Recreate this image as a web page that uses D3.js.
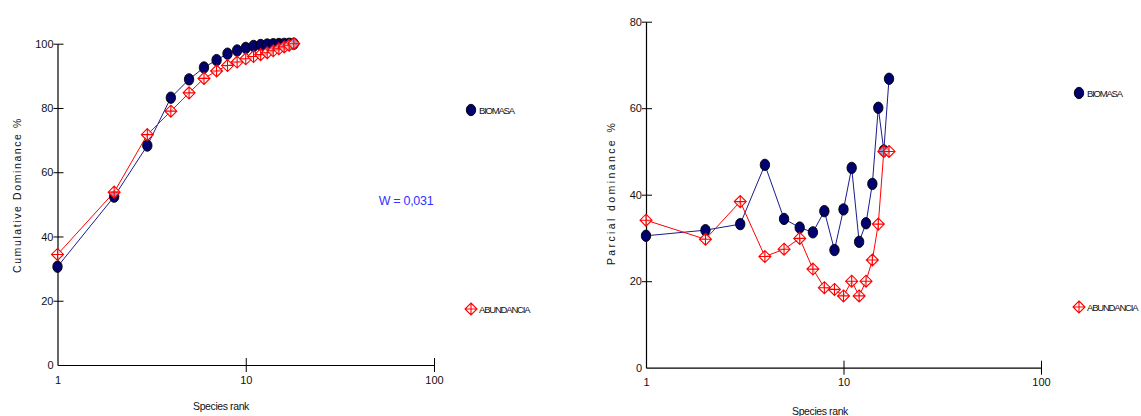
<!DOCTYPE html>
<html>
<head>
<meta charset="utf-8">
<script src="https://cdn.jsdelivr.net/npm/d3@7"></script>
<style>
  html, body { margin: 0; padding: 0; background: #fff; }
  svg { display: block; font-family: "Liberation Sans", Arial, sans-serif; }
</style>
</head>
<body>
<svg id="chart" width="1141" height="416"></svg>
<script>
// Species ranks
const ranksCum = d3.range(1, 19);   // 1..18
const ranksPar = d3.range(1, 18);   // 1..17

// Cumulative dominance (%)
const cumBiomasa = [30.6, 52.4, 68.3, 83.2, 88.9, 92.6, 94.9, 96.9, 97.9, 98.7, 99.3, 99.6, 99.75, 99.85, 99.92, 99.96, 99.99, 100];
const cumAbundancia = [34.4, 53.8, 71.7, 79.0, 84.7, 89.2, 91.5, 93.2, 94.3, 95.3, 96.0, 96.6, 97.2, 97.8, 98.4, 99.0, 99.5, 100];

// Partial dominance (%)
const parBiomasa = [30.5, 31.8, 33.2, 46.9, 34.4, 32.4, 31.3, 36.2, 27.2, 36.6, 46.2, 29.1, 33.4, 42.5, 60.1, 50.2, 66.8];
const parAbundancia = [34.1, 29.7, 38.4, 25.7, 27.4, 29.9, 22.8, 18.5, 18.1, 16.6, 20.0, 16.6, 20.0, 24.9, 33.2, 50.0, 50.0];

const xTicks = [1, 10, 100];
const yTicksCum = [0, 20, 40, 60, 80, 100];
const yTicksPar = [0, 20, 40, 60, 80];
const seriesNames = ["BIOMASA", "ABUNDANCIA"];
const wLabel = "W = 0,031";

const BLUE = "#00006e";
const BLUE_LINE = "#1b1b8f";
const RED = "#ff0000";

const svg = d3.select("#chart");

// filled ellipse for biomass points
function blueMarker(g, x, y) {
  g.append("ellipse").attr("cx", x).attr("cy", y).attr("rx", 4.7).attr("ry", 5.7)
    .attr("fill", BLUE).attr("stroke", "#000").attr("stroke-width", 0.9);
}
// open diamond with a cross for abundance points
function redMarker(g, x, y) {
  const s = 6;
  g.append("path")
    .attr("d", `M${x},${y - s}L${x + s},${y}L${x},${y + s}L${x - s},${y}Z M${x - s},${y}H${x + s} M${x},${y - s}V${y + s}`)
    .attr("fill", "rgba(255,255,255,0.6)").attr("stroke", RED).attr("stroke-width", 1.1);
}

function panel(cfg) {
  const x = d3.scaleLog().domain([1, 100]).range([cfg.x0, cfg.x1]);
  const y = d3.scaleLinear().domain([0, cfg.yMax]).range([cfg.y0, cfg.y1]);
  const g = svg.append("g");

  // axes
  const xAxis = g.append("g").attr("transform", `translate(0,${cfg.y0})`)
    .call(d3.axisBottom(x).tickValues(xTicks).tickFormat(d3.format("d")).tickSize(7).tickSizeOuter(0));
  xAxis.select(".domain").attr("stroke", "#000").attr("stroke-width", 1.2);
  xAxis.selectAll(".tick line").attr("y1", -7).attr("y2", 7).attr("stroke", "#000");
  xAxis.selectAll(".tick").filter(d => d === 1).select("line").remove();
  xAxis.selectAll(".tick text").attr("y", 11).attr("font-size", 11).attr("fill", "#111")
    .attr("font-family", "Liberation Sans, Arial, sans-serif");

  const yAxis = g.append("g").attr("transform", `translate(${cfg.x0},0)`)
    .call(d3.axisLeft(y).tickValues(cfg.yTicks).tickSize(4).tickSizeOuter(0));
  yAxis.select(".domain").attr("stroke", "#000").attr("stroke-width", 1.2);
  yAxis.selectAll(".tick line").attr("x1", -4).attr("x2", 6).attr("stroke", "#000");
  yAxis.selectAll(".tick").filter(d => d === 0).select("line").remove();
  yAxis.selectAll(".tick text").attr("x", -4).attr("font-size", 11).attr("fill", "#111")
    .attr("font-family", "Liberation Sans, Arial, sans-serif");

  // axis titles
  g.append("text").attr("x", cfg.xTitleX).attr("y", cfg.xTitleY).attr("text-anchor", "middle")
    .attr("font-size", 10.5).attr("letter-spacing", -0.4).attr("fill", "#111").text("Species rank");
  g.append("text").attr("transform", `translate(${cfg.yTitleX},${cfg.yTitleY}) rotate(-90)`)
    .attr("text-anchor", "middle").attr("font-size", 10.5).attr("letter-spacing", cfg.yTitleSpacing)
    .attr("fill", "#111").text(cfg.yTitle);

  // series lines
  const line = d3.line().x(d => x(d[0])).y(d => y(d[1]));
  const red = cfg.ranks.map((r, i) => [r, cfg.red[i]]);
  const blue = cfg.ranks.map((r, i) => [r, cfg.blue[i]]);
  g.append("path").datum(blue).attr("d", line).attr("fill", "none").attr("stroke", BLUE_LINE).attr("stroke-width", 1);
  g.append("path").datum(red).attr("d", line).attr("fill", "none").attr("stroke", RED).attr("stroke-width", 1);
  const mk = g.append("g");
  blue.forEach(d => blueMarker(mk, x(d[0]), y(d[1])));
  red.forEach(d => redMarker(mk, x(d[0]), y(d[1])));

  // legend
  const lg = g.append("g");
  blueMarker(lg, cfg.legX, cfg.legY1);
  redMarker(lg, cfg.legX, cfg.legY2);
  lg.append("text").attr("x", cfg.legX + 8).attr("y", cfg.legY1 + 3.6).attr("font-size", 9.5)
    .attr("letter-spacing", -1.2).attr("fill", "#111").text(seriesNames[0]);
  lg.append("text").attr("x", cfg.legX + 8).attr("y", cfg.legY2 + 3.6).attr("font-size", 9.5)
    .attr("letter-spacing", -1.2).attr("fill", "#111").text(seriesNames[1]);
  return { x, y, g };
}

const left = panel({
  x0: 57.5, x1: 434, y0: 365, y1: 43.7, yMax: 100, yTicks: yTicksCum,
  ranks: ranksCum, blue: cumBiomasa, red: cumAbundancia,
  xTitleX: 221, xTitleY: 410, yTitleX: 21, yTitleY: 195,
  yTitle: "Cumulative Dominance %", yTitleSpacing: 1.6,
  legX: 471, legY1: 110, legY2: 309
});

left.g.append("text").attr("x", 406).attr("y", 205).attr("text-anchor", "middle")
  .attr("font-size", 12.5).attr("letter-spacing", -0.3).attr("fill", "#3333ff").text(wLabel);

panel({
  x0: 646, x1: 1041, y0: 367.7, y1: 21.7, yMax: 80, yTicks: yTicksPar,
  ranks: ranksPar, blue: parBiomasa, red: parAbundancia,
  xTitleX: 820, xTitleY: 415, yTitleX: 615, yTitleY: 193,
  yTitle: "Parcial dominance %", yTitleSpacing: 2.4,
  legX: 1079, legY1: 93, legY2: 307
});
</script>
</body>
</html>
